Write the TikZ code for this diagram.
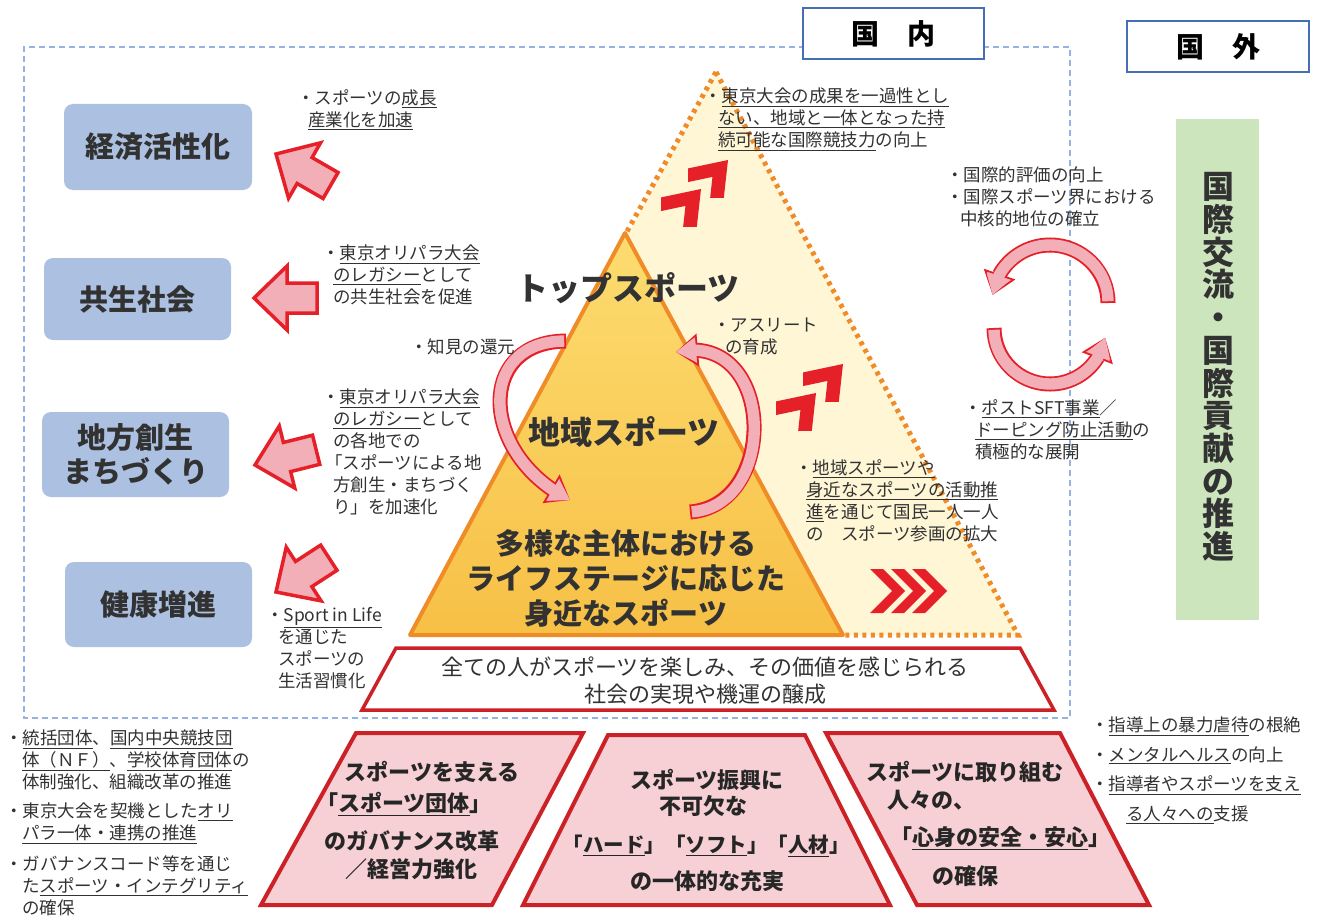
\documentclass[tikz,border=0pt]{standalone}
\usepackage{fontspec}
\setmainfont{Noto Sans CJK JP}
\usetikzlibrary{arrows.meta,bending}
\definecolor{dashblue}{RGB}{150,178,226}
\definecolor{boxblue}{RGB}{70,110,180}
\definecolor{lblue}{RGB}{172,193,226}
\definecolor{txt}{RGB}{50,50,50}
\definecolor{ared}{RGB}{230,32,40}
\definecolor{apink}{RGB}{243,175,184}
\definecolor{cream}{RGB}{255,246,214}
\definecolor{gold1}{RGB}{252,220,112}
\definecolor{gold2}{RGB}{247,192,70}
\definecolor{orangeb}{RGB}{240,140,40}
\definecolor{dred}{RGB}{205,33,40}
\definecolor{spink}{RGB}{246,208,212}
\definecolor{lgreen}{RGB}{204,229,188}
\newcommand{\myul}[1]{\underline{#1}}
\newcommand{\bul}{・}
\tikzset{
  note/.style={anchor=north west, inner sep=0pt, align=left, text=txt, font=\fontsize{17.5}{22}\selectfont},
  titlebox/.style={fill=lblue, rounded corners=9pt, draw=none, text=txt, align=center, font=\bfseries\fontsize{29}{34}\selectfont},
  headbox/.style={draw=boxblue, line width=1.6pt, fill=white, font=\bfseries\fontsize{28}{30}\selectfont, text=black},
  blockarrow/.style={fill=apink, draw=ared, line width=3.5pt, line join=miter},
  curvout/.style={draw=ared, line width=15pt, -{Triangle[length=22pt,width=33pt,line width=1.8pt,fill=apink]}},
  curvin/.style={draw=apink, line width=11.4pt, shorten <=1.8pt, -{Triangle[length=19pt,width=24pt,line width=0pt,color=apink]}},
  dashline/.style={draw=dashblue, line width=1.4pt, dash pattern=on 6pt off 4pt},
  dotline/.style={draw=orangeb, line width=5pt, dash pattern=on 4pt off 4.5pt},
  ptitle/.style={text=txt, font=\bfseries\fontsize{32}{36}\selectfont, align=center, inner sep=0pt},
  pbase/.style={text=txt, font=\bfseries\fontsize{29}{35}\selectfont, align=center, inner sep=0pt},
  shapetext/.style={text=black!85, font=\bfseries\fontsize{22}{26}\selectfont, inner sep=0pt},
  lowshape/.style={fill=spink, draw=dred, line width=4pt, line join=miter},
  chevron/.style={fill=ared, draw=none},
}
\newcommand{\blockarr}[3]{%
  \draw[blockarrow, shift={(#1,#2)}, rotate=#3] (0,0) -- (33,-32) -- (33,-15) -- (63,-15) -- (63,15) -- (33,15) -- (33,32) -- cycle;}
\newcommand{\chev}[3]{%
  \fill[chevron, shift={(#1,#2)}, rotate=#3] (0,-22) -- (13,-22) -- (35,0) -- (13,22) -- (0,22) -- (22,0) -- cycle;}
\newcommand{\chevseven}[3]{%
  \fill[chevron, shift={(#1,#2)}, scale=#3] (0,0) -- (-4,36) -- (-17,36) -- (-14.8,16.1) -- (-38,21) -- (-38,8) -- cycle;}
\begin{document}
\begin{tikzpicture}[x=1pt,y=-1pt]
\useasboundingbox (0,0) rectangle (1321,915);
\fill[white] (0,0) rectangle (1321,915);

% domestic dashed frame
\draw[dashline] (805,47) -- (24,47) -- (24,718) -- (1070,718) -- (1070,47) -- (984,47);

% header boxes
\node[headbox, minimum width=181pt, minimum height=51pt] (kokunai) at (893.5,33.5) {国\hspace{1em}内};
\node[headbox, minimum width=182pt, minimum height=51pt] (kokugai) at (1218,46.5) {国\hspace{1em}外};

% left title boxes
\node[titlebox, minimum width=188pt, minimum height=86pt] (keizai) at (158,147) {経済活性化};
\node[titlebox, minimum width=187pt, minimum height=82pt] (kyosei) at (137.5,299) {共生社会};
\node[titlebox, minimum width=187pt, minimum height=85pt] (chiho) at (135.5,454.5) {地方創生\\まちづくり};
\node[titlebox, minimum width=187pt, minimum height=85pt] (kenko) at (158.5,604.5) {健康増進};

% left block arrows
\blockarr{276}{154}{-30}
\blockarr{254}{298}{0}
\blockarr{255}{465}{14}
\blockarr{276}{592}{33}

% pyramid
\fill[cream] (716,72) -- (410,635) -- (1018,635) -- cycle;
\draw[dotline] (716,72) -- (1018,635) -- (843,635);
\draw[dotline] (716,72) -- (625,235);
\shade[top color=gold1, bottom color=gold2] (625,233) -- (410,635) -- (843,635) -- cycle;
\draw[orangeb, line width=4pt, line join=round] (625,233) -- (410,635) -- (843,635) -- cycle;

% chevrons
\chevseven{728}{160}{1.05}
\chevseven{701}{189}{1.05}
\chevseven{843}{364}{1.05}
\chevseven{816}{393}{1.05}
\chev{870}{591}{0}
\chev{891}{591}{0}
\chev{912}{591}{0}

% pyramid texts
\node[ptitle] (top) at (628,288) {トップスポーツ};
\node[ptitle] (chiiki) at (624,432) {地域スポーツ};
\node[pbase] (mijika) at (626,578) {多様な主体における\\ライフステージに応じた\\身近なスポーツ};

% curved arrows in pyramid
\draw[curvout] (566,341) .. controls (475,342) and (480,455) .. (570,500);
\draw[curvin] (566,341) .. controls (475,342) and (480,455) .. (570,500);
\draw[curvout] (690,512) .. controls (780,505) and (775,330) .. (676,352);
\draw[curvin] (690,512) .. controls (780,505) and (775,330) .. (676,352);

% circular arrows (international)
\draw[curvout] (1108,303) arc[start angle=0,end angle=-172,radius=58];
\draw[curvin] (1108,303) arc[start angle=0,end angle=-172,radius=58];
\draw[curvout] (994,328) arc[start angle=180,end angle=10,radius=56];
\draw[curvin] (994,328) arc[start angle=180,end angle=10,radius=56];

% green bar
\fill[lgreen] (1176,119) rectangle (1259,620);
\node[inner sep=0pt, align=center, text=txt, font=\bfseries\fontsize{32}{32.7}\selectfont] (kokusai) at (1218,367) {国\\際\\交\\流\\・\\国\\際\\貢\\献\\の\\推\\進};

% base trapezoid
\draw[fill=white, draw=dred, line width=3.5pt, line join=miter] (396,648) -- (1020,648) -- (1054,710) -- (362,710) -- cycle;
\node[text=txt, font=\fontsize{22}{27}\selectfont, align=center, inner sep=0pt] (base) at (705,681) {全ての人がスポーツを楽しみ、その価値を感じられる\\社会の実現や機運の醸成};

% bottom shapes
\draw[lowshape] (356,733) -- (583,733) -- (492,905) -- (261,905) -- cycle;
\draw[lowshape] (608,735) -- (805,735) -- (890,905) -- (523,905) -- cycle;
\draw[lowshape] (826,733) -- (1060,733) -- (1149,905) -- (917,905) -- cycle;

\node[shapetext] (s1a) at (432,772) {スポーツを支える};
\node[shapetext] (s1b) at (404,804) {「\myul{スポーツ団体}」};
\node[shapetext] (s1c) at (412,841) {のガバナンス改革};
\node[shapetext] (s1d) at (411,869) {／経営力強化};

\node[shapetext] (s2a) at (707,780) {スポーツ振興に};
\node[shapetext] (s2b) at (703,806) {不可欠な};
\node[shapetext, font=\bfseries\fontsize{20.5}{24}\selectfont] (s2c) at (706,846) {「\myul{ハード}」「\myul{ソフト}」「\myul{人材}」};
\node[shapetext] (s2d) at (707,881) {の一体的な充実};

\node[shapetext] (s3a) at (965,772) {スポーツに取り組む};
\node[shapetext] (s3b) at (931,800) {人々の、};
\node[shapetext] (s3c) at (1000,838) {「\myul{心身の安全・安心}」};
\node[shapetext] (s3d) at (965,876) {の確保};

% annotations
\node[note] (n1) at (297,89) {\bul スポーツの\myul{成長}\\\hspace{11pt}\myul{産業化を加速}};
\node[note] (n2) at (322,245) {\bul\myul{東京オリパラ大会}\\\hspace{11pt}\myul{のレガシー}として\\\hspace{11pt}の共生社会を促進};
\node[note] (n3) at (410,339) {\bul 知見の還元};
\node[note] (n4) at (322,389) {\bul\myul{東京オリパラ大会}\\\hspace{11pt}\myul{のレガシー}として\\\hspace{11pt}の各地での\\\hspace{3pt}「スポーツによる地\\\hspace{11pt}方創生・まちづく\\\hspace{11pt}り」を加速化};
\node[note] (n5) at (266,607) {\bul\myul{Sport in Life}\\\hspace{12pt}を通じた\\\hspace{12pt}スポーツの\\\hspace{12pt}生活習慣化};
\node[note] (n6) at (704,88) {\bul\myul{東京大会の成果を一過性とし}\\\hspace{14pt}\myul{ない、地域と一体となった持}\\\hspace{14pt}\myul{続可能な国際競技力}の向上};
\node[note] (n7) at (946,167) {\bul 国際的評価の向上\\\bul 国際スポーツ界における\\\hspace{14pt}中核的地位の確立};
\node[note] (n8) at (713,318) {\bul アスリート\\\hspace{12pt}の育成};
\node[note] (n9) at (964,399) {\bul\myul{ポストSFT事業}／\\\hspace{11pt}\myul{ドーピング防止活動}の\\\hspace{11pt}積極的な展開};
\node[note] (n10) at (795,459) {\bul\myul{地域スポーツや}\\\hspace{11pt}\myul{身近なスポーツの活動推}\\\hspace{11pt}\myul{進}を通じて国民一人一人\\\hspace{11pt}の　スポーツ参画の拡大};
\node[note] (n11) at (5,730) {\bul\myul{統括団体}、\myul{国内中央競技団}\\\hspace{17pt}\myul{体（ＮＦ）}、\myul{学校体育団体}の\\\hspace{17pt}体制強化、組織改革の推進};
\node[note] (n12) at (5,803) {\bul 東京大会を契機とした\myul{オリ}\\\hspace{17pt}\myul{パラ一体・連携の推進}};
\node[note] (n13) at (5,855) {\bul ガバナンスコード等を通じ\\\hspace{17pt}た\myul{スポーツ・インテグリティ}\\\hspace{17pt}の確保};
\node[note, font=\fontsize{17.5}{29.5}\selectfont] (n14) at (1091,717) {\bul\myul{指導上の暴力虐待}の根絶\\\bul\myul{メンタルヘルス}の向上\\\bul\myul{指導者やスポーツを支え}\\\hspace{35pt}\myul{る人々への}支援};
\end{tikzpicture}
\end{document}
